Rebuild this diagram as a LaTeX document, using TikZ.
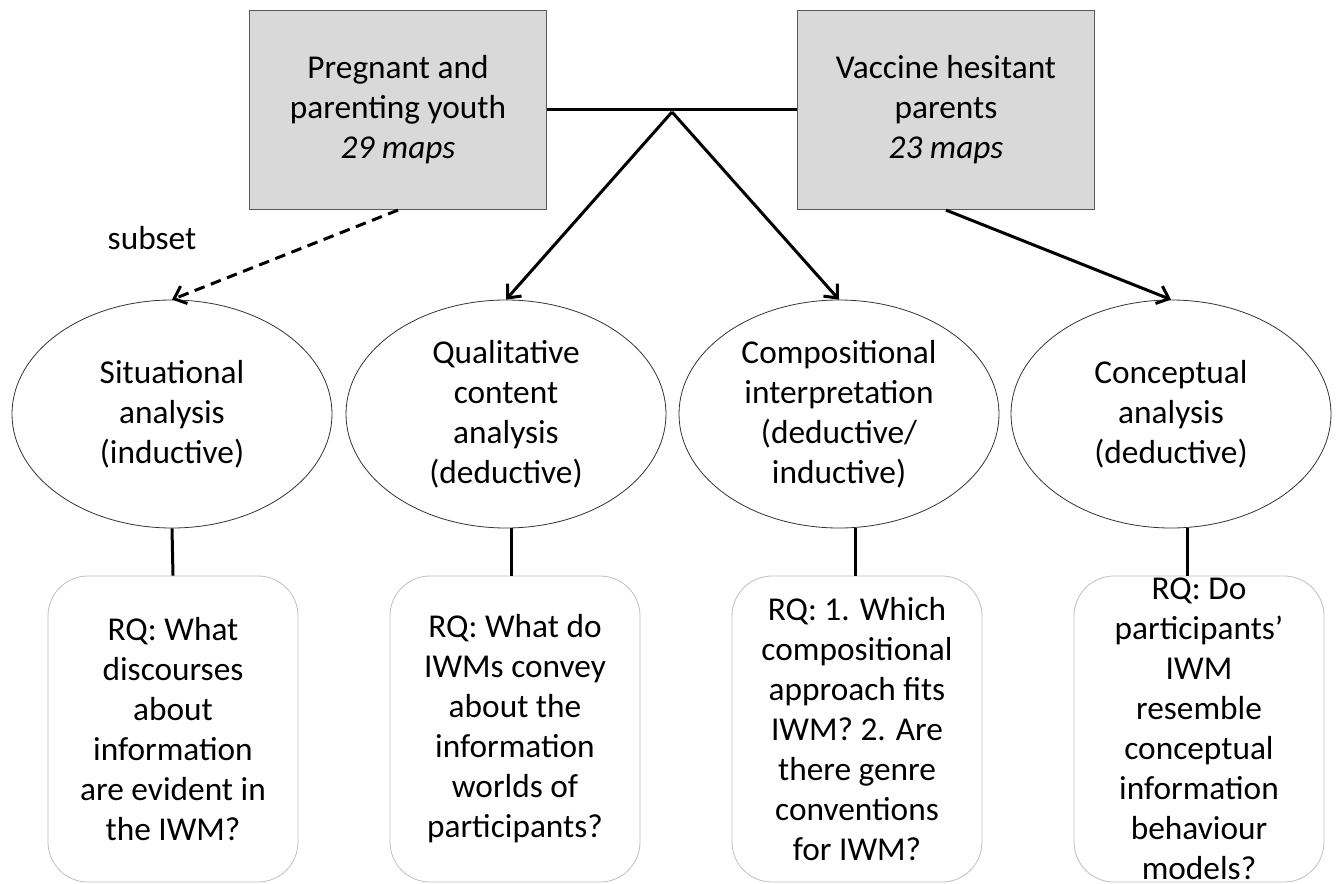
\documentclass[tikz,border=0pt]{standalone}
\usepackage{fontspec}
\setmainfont{Carlito}
\usepackage{tikz}
\usetikzlibrary{shapes.geometric,arrows.meta}

\definecolor{boxgray}{HTML}{D9D9D9}

\tikzset{
  every node/.style={font=\fontsize{25pt}{30pt}\selectfont},
  group/.style={shape=rectangle, draw=black!65, line width=0.9pt, fill=boxgray,
    minimum width=222.75pt, minimum height=149.25pt, align=center, inner sep=0pt},
  method/.style={shape=ellipse, draw=black!80, line width=0.6pt,
    minimum width=240pt, minimum height=171pt, align=center, inner sep=0pt},
  question/.style={shape=rectangle, rounded corners=30pt, draw=black!25, line width=0.6pt,
    minimum width=187.5pt, minimum height=229.5pt, align=center, inner sep=0pt},
  link/.style={line width=2.25pt},
  arrow/.style={link, -{Straight Barb[length=8pt,width=14pt]}},
  subsetarrow/.style={arrow, dash pattern=on 8pt off 5pt}
}

\begin{document}
\begin{tikzpicture}[x=0.75pt, y=-0.75pt]
\useasboundingbox (0,0) rectangle (1341,884);

\node (Youth) at (398,110) [group] {Pregnant and\\parenting youth\\\textit{29 maps}};

\node (Parents) at (946,110) [group] {Vaccine hesitant\\parents\\\textit{23 maps}};

\coordinate (Split) at (672,112);

\node (Subset) at (152,238) {subset};

\node (Situational) at (172,414) [method] {Situational\\analysis\\(inductive)};

\node (Qualitative) at (506,414) [method] {Qualitative\\content\\analysis\\(deductive)};

\node (Compositional) at (839,414) [method] {Compositional\\interpretation\\(deductive/\\inductive)};

\node (Conceptual) at (1171,414) [method] {Conceptual\\analysis\\(deductive)};

\node (RQ Situational) at (173,729) [question] {RQ: What\\discourses\\about\\information\\are evident in\\the IWM?};

\node (RQ Qualitative) at (515,729) [question] {RQ: What do\\IWMs convey\\about the\\information\\worlds of\\participants?};

\node (RQ Compositional) at (857,729) [question] {RQ: 1. Which\\compositional\\approach fits\\IWM? 2. Are\\there genre\\conventions\\for IWM?};

\node (RQ Conceptual) at (1199,729) [question] {RQ: Do\\participants’\\IWM\\resemble\\conceptual\\information\\behaviour\\models?};

\path [link]  (Youth)  edge  (Parents);

\path [arrow]  (Split)  edge  (Qualitative.north)
    edge  (Compositional.north)
  (Parents.south)  edge  (Conceptual.north);

\path [subsetarrow]  (Youth.south)  edge  (Situational.north);

\path [link]  (Situational.south)  edge  (RQ Situational.north)
  ([xshift=3.75pt]Qualitative.south)  edge  ([xshift=-3pt]RQ Qualitative.north)
  ([xshift=12pt]Compositional.south)  edge  ([xshift=-1.5pt]RQ Compositional.north)
  ([xshift=12pt]Conceptual.south)  edge  ([xshift=-9pt]RQ Conceptual.north);
\end{tikzpicture}
\end{document}
